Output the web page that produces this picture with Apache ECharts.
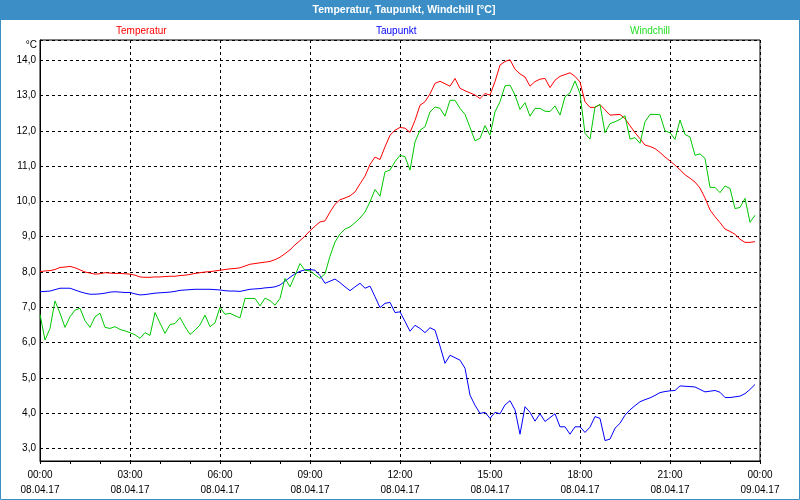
<!DOCTYPE html>
<html>
<head>
<meta charset="utf-8">
<script src="https://cdn.jsdelivr.net/npm/echarts@6/dist/echarts.min.js"></script>
<style>html,body{margin:0;padding:0;background:#fff;}#c{width:800px;height:500px;}</style>
</head>
<body>
<div id="c"></div>
<script>
var titleText = 'Temperatur, Taupunkt, Windchill [°C]';
var unitLabel = '°C';
var seriesNames = ['Temperatur', 'Taupunkt', 'Windchill'];
var dayLabels = ['08.04.17', '09.04.17'];
var times = [
'00:00','00:10','00:20','00:30','00:40','00:50','01:00','01:10','01:20','01:30','01:40','01:50',
'02:00','02:10','02:20','02:30','02:40','02:50','03:00','03:10','03:20','03:30','03:40','03:50',
'04:00','04:10','04:20','04:30','04:40','04:50','05:00','05:10','05:20','05:30','05:40','05:50',
'06:00','06:10','06:20','06:30','06:40','06:50','07:00','07:10','07:20','07:30','07:40','07:50',
'08:00','08:10','08:20','08:30','08:40','08:50','09:00','09:10','09:20','09:30','09:40','09:50',
'10:00','10:10','10:20','10:30','10:40','10:50','11:00','11:10','11:20','11:30','11:40','11:50',
'12:00','12:10','12:20','12:30','12:40','12:50','13:00','13:10','13:20','13:30','13:40','13:50',
'14:00','14:10','14:20','14:30','14:40','14:50','15:00','15:10','15:20','15:30','15:40','15:50',
'16:00','16:10','16:20','16:30','16:40','16:50','17:00','17:10','17:20','17:30','17:40','17:50',
'18:00','18:10','18:20','18:30','18:40','18:50','19:00','19:10','19:20','19:30','19:40','19:50',
'20:00','20:10','20:20','20:30','20:40','20:50','21:00','21:10','21:20','21:30','21:40','21:50',
'22:00','22:10','22:20','22:30','22:40','22:50','23:00','23:10','23:20','23:30','23:40','23:50',
'24:00'];
var temperatur = [
8.01,8.03,8.04,8.07,8.13,8.14,8.16,8.12,8.06,8.00,7.97,7.94,
7.95,7.98,7.97,7.96,7.96,7.95,7.94,7.91,7.86,7.85,7.85,7.86,
7.86,7.87,7.88,7.88,7.90,7.91,7.93,7.96,7.98,8.00,8.01,8.03,
8.05,8.07,8.09,8.10,8.12,8.17,8.22,8.24,8.26,8.28,8.30,8.35,
8.42,8.52,8.63,8.77,8.89,9.02,9.17,9.30,9.42,9.45,9.70,9.92,
10.05,10.10,10.16,10.27,10.50,10.72,11.05,11.26,11.19,11.55,11.88,12.02,
12.10,12.08,11.96,12.30,12.73,12.83,13.05,13.35,13.41,13.34,13.27,13.49,
13.21,13.14,13.08,13.02,12.92,13.06,13.02,13.40,13.87,13.97,14.02,13.75,
13.62,13.53,13.27,13.40,13.47,13.49,13.23,13.44,13.55,13.60,13.65,13.55,
13.39,12.83,12.67,12.67,12.75,12.60,12.45,12.46,12.47,12.35,12.15,11.95,
11.78,11.60,11.56,11.50,11.39,11.26,11.15,11.03,10.90,10.76,10.66,10.55,
10.38,10.10,9.76,9.57,9.40,9.22,9.15,9.07,8.93,8.84,8.84,8.86];
var taupunkt = [
7.44,7.45,7.46,7.50,7.54,7.54,7.54,7.49,7.44,7.40,7.37,7.37,
7.38,7.40,7.43,7.44,7.43,7.42,7.42,7.38,7.35,7.36,7.38,7.40,
7.41,7.42,7.43,7.45,7.48,7.49,7.50,7.51,7.51,7.51,7.51,7.50,
7.49,7.47,7.46,7.46,7.45,7.48,7.51,7.52,7.53,7.55,7.56,7.58,
7.63,7.74,7.85,7.95,8.02,8.06,8.07,8.05,7.90,7.68,7.74,7.80,
7.70,7.58,7.47,7.58,7.68,7.54,7.60,7.30,6.99,7.11,7.14,6.85,
6.87,6.60,6.32,6.49,6.40,6.28,6.42,6.35,5.90,5.41,5.64,5.57,
5.50,5.27,4.51,4.22,3.99,4.02,3.85,4.02,3.98,4.23,4.35,4.09,
3.40,4.18,4.02,3.77,3.98,3.76,3.87,3.98,3.61,3.61,3.40,3.61,
3.61,3.45,3.60,3.90,3.85,3.22,3.26,3.57,3.71,3.94,4.09,4.21,
4.32,4.38,4.43,4.50,4.58,4.61,4.63,4.64,4.77,4.76,4.75,4.74,
4.67,4.60,4.62,4.64,4.59,4.44,4.44,4.46,4.48,4.55,4.67,4.81];
var windchill = [
6.80,6.07,6.40,7.18,6.83,6.43,6.73,6.92,6.97,6.62,6.43,6.73,
6.83,6.43,6.40,6.45,6.37,6.33,6.28,6.22,6.12,6.28,6.20,6.85,
6.55,6.26,6.51,6.54,6.71,6.45,6.23,6.35,6.50,6.78,6.45,6.56,
7.00,6.80,6.83,6.76,6.70,7.25,7.25,7.25,7.04,7.26,7.19,7.06,
7.25,7.82,7.58,7.90,8.24,8.05,8.03,7.92,7.82,7.95,8.45,8.85,
9.08,9.22,9.28,9.40,9.53,9.70,9.99,10.34,10.15,10.84,10.89,11.13,
11.31,11.27,10.89,11.69,12.02,12.12,12.54,12.68,12.64,12.42,12.87,12.87,
12.64,12.47,12.10,11.72,11.79,12.15,11.88,12.54,12.83,13.28,13.30,13.02,
12.61,12.80,12.42,12.64,12.64,12.56,12.55,12.71,12.45,12.97,13.08,13.42,
13.06,11.93,11.77,12.68,12.75,11.95,12.21,12.26,12.33,12.43,11.77,11.81,
11.65,12.26,12.47,12.47,12.46,12.00,11.95,11.76,12.31,11.90,11.83,11.31,
11.35,11.22,10.40,10.40,10.25,10.44,10.37,9.80,9.83,10.09,9.41,9.61];

var FONT = '"Liberation Sans", Arial, sans-serif';
var BLUE = '#3c8fc6';
var colors = ['#ff0000', '#0000ff', '#00c800'];
var legendColors = ['#ff0000', '#0000ff', '#22dd22'];
var legendLeft = [111, 371, 625];

var chart = echarts.init(document.getElementById('c'), null, {renderer: 'canvas'});
chart.setOption({
  animation: false,
  backgroundColor: '#ffffff',
  textStyle: {fontFamily: FONT},
  graphic: [
    {type: 'rect', shape: {x: 0, y: 0, width: 800, height: 20}, style: {fill: BLUE}, silent: true},
    {type: 'rect', shape: {x: 0.5, y: 0.5, width: 799, height: 499}, style: {fill: null, stroke: BLUE, lineWidth: 1}, silent: true},
    {type: 'text', x: 404, y: 10, style: {text: titleText, fill: '#ffffff', font: 'bold 10.5px ' + FONT, textAlign: 'center', textVerticalAlign: 'middle'}, silent: true},
    {type: 'text', x: 37, y: 45, style: {text: unitLabel, fill: '#000000', font: '10px ' + FONT, textAlign: 'right', textVerticalAlign: 'middle'}, silent: true}
  ],
  legend: seriesNames.map(function (n, i) {
    return {
      data: [n], left: legendLeft[i], top: 26, padding: 0,
      icon: 'none', itemWidth: 0, itemHeight: 0,
      textStyle: {color: legendColors[i], fontSize: 10, fontFamily: FONT}
    };
  }),
  grid: {left: 40, right: 40, top: 40, bottom: 39, show: true, borderColor: '#000', borderWidth: 1, backgroundColor: 'transparent'},
  xAxis: {
    type: 'category',
    data: times,
    boundaryGap: false,
    axisLine: {show: true, lineStyle: {color: '#000', width: 1}},
    axisTick: {show: true, interval: 5, length: 3, inside: false, lineStyle: {color: '#000'}},
    axisLabel: {
      interval: 17, margin: 7, color: '#000', fontSize: 10, lineHeight: 15, fontFamily: FONT,
      formatter: function (v) {
        if (v === '24:00') return '00:00\n' + dayLabels[1];
        return v + '\n' + dayLabels[0];
      }
    },
    splitLine: {show: true, interval: 17, lineStyle: {color: '#000', type: [3, 3], width: 1}}
  },
  yAxis: {
    type: 'value',
    min: 2.64, max: 14.58,
    minInterval: 1, maxInterval: 1,
    axisLine: {show: true, lineStyle: {color: '#000', width: 1}},
    axisTick: {show: false},
    axisLabel: {
      margin: 4, color: '#000', fontSize: 10, fontFamily: FONT,
      formatter: function (v) {
        if (Math.abs(v - Math.round(v)) > 1e-6) return '';
        return v.toFixed(1).replace('.', ',');
      }
    },
    splitLine: {show: true, lineStyle: {color: '#000', type: [3, 3], width: 1}}
  },
  series: [
    {name: seriesNames[0], type: 'line', data: temperatur, showSymbol: false, color: colors[0], lineStyle: {width: 1, color: colors[0]}},
    {name: seriesNames[1], type: 'line', data: taupunkt, showSymbol: false, color: colors[1], lineStyle: {width: 1, color: colors[1]}},
    {name: seriesNames[2], type: 'line', data: windchill, showSymbol: false, color: colors[2], lineStyle: {width: 1, color: colors[2]}}
  ]
});
</script>
</body>
</html>
